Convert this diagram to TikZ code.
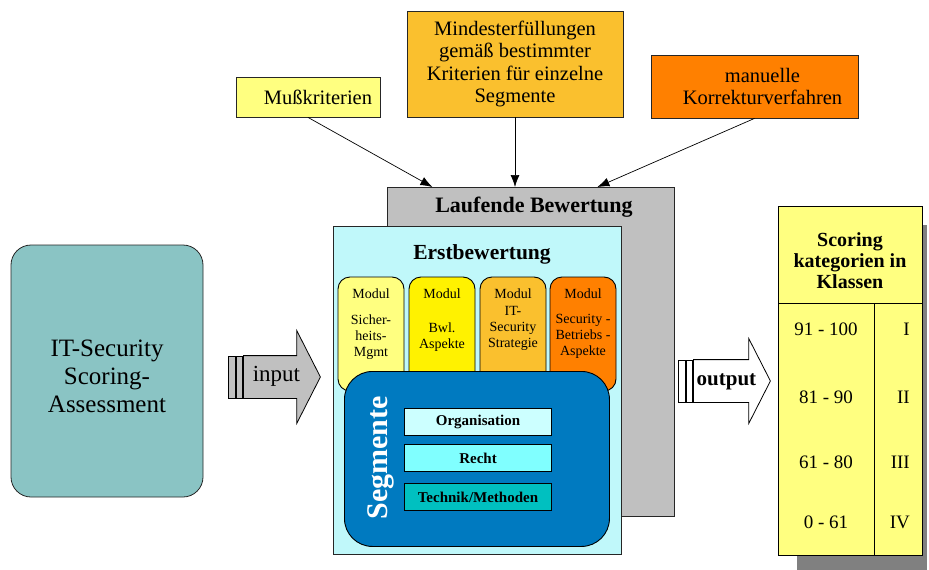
\documentclass[tikz,border=0pt]{standalone}
\usepackage{fontspec}
\setmainfont{Liberation Serif}
\usepackage{xcolor}
\usepackage{tikz}
\usetikzlibrary{positioning, arrows.meta, shapes.arrows, calc}
\definecolor{paleyel}{RGB}{255,255,128}
\definecolor{gold}{RGB}{250,192,46}
\definecolor{orng}{RGB}{255,128,0}
\definecolor{lgray}{RGB}{192,192,192}
\definecolor{palecyan}{RGB}{192,248,250}
\definecolor{segblue}{RGB}{0,122,192}
\definecolor{orgcol}{RGB}{204,255,255}
\definecolor{rechtcol}{RGB}{128,255,255}
\definecolor{techcol}{RGB}{0,192,192}
\definecolor{itcol}{RGB}{138,196,196}
\definecolor{shade}{RGB}{128,128,128}
\newcommand{\fsz}[2]{\fontsize{#1}{#2}\selectfont}
\tikzset{
  crit/.style={rectangle, draw=black!85, line width=0.8pt, inner sep=0pt},
  lbl/.style={align=center, inner sep=0pt, font=\fsz{20.5}{22.5}},
  panel/.style={rectangle, draw=black!85, line width=0.8pt, inner sep=0pt, anchor=north west},
  modbox/.style={rectangle, draw=black, line width=0.9pt, rounded corners=12pt,
                 minimum width=66pt, minimum height=114pt, inner sep=0pt},
  modtxt/.style={align=center, inner sep=0pt, anchor=north, font=\fsz{14}{16.3}},
  segbox/.style={rectangle, draw=black, line width=0.8pt, minimum width=147pt,
                 minimum height=27pt, inner sep=0pt, font=\bfseries\fsz{15}{17}},
  bar/.style={rectangle, draw=black, line width=0.8pt, minimum width=6.5pt,
              minimum height=42pt, inner sep=0pt},
  fat/.style={single arrow, draw=black, line width=0.8pt, single arrow tip angle=126,
              minimum height=77pt, text height=13pt, text depth=4pt,
              inner ysep=12.5pt, inner xsep=2pt, anchor=tail},
  arr/.style={-{Latex[length=12pt, width=9pt]}, line width=0.7pt},
  row/.style={inner sep=0pt, font=\fsz{19}{20}},
}

\begin{document}
\begin{tikzpicture}[x=1pt, y=-1pt]
  \useasboundingbox (0,0) rectangle (929,570);
  % criteria feeding the running evaluation
  \node[crit, fill=paleyel, minimum width=144pt, minimum height=40pt,
        label={[lbl, xshift=10pt]center:Mußkriterien}] (muss) at (308,97) {};
  \node[crit, fill=gold, minimum width=216pt, minimum height=106pt, lbl] (mind) at (515,64)
       {Mindesterfüllungen\\gemäß bestimmter\\Kriterien für einzelne\\Segmente};
  \node[crit, fill=orng, minimum width=207pt, minimum height=63pt,
        label={[lbl, xshift=8pt]center:{manuelle\\Korrekturverfahren}}] (man) at (754.5,86.5) {};
  % evaluation panels
  \node[panel, fill=lgray, minimum width=287pt, minimum height=329pt] (lauf) at (387,187) {};
  \node[font=\bfseries\fsz{22}{24}] (laufT) at (534,207) {Laufende Bewertung};
  \draw[arr] (muss.south) -- ($(lauf.north)+(-98.5,0)$);
  \draw[arr] (mind.south) -- (mind.south |- lauf.north);
  \draw[arr] (man.south) -- ($(lauf.north)+(66.5,0)$);
  \node[panel, fill=palecyan, minimum width=288pt, minimum height=328pt] (erst) at (333,226) {};
  \node[font=\bfseries\fsz{21.5}{24}] (erstT) at (482,254) {Erstbewertung};
  % modules
  \foreach \x/\c/\g/\t [count=\i] in {371/paleyel/9pt/{Sicher-\\heits-\\Mgmt},
      442/yellow/17pt/{Bwl.\\Aspekte}, 513/gold/0pt/{IT-\\Security\\Strategie},
      583/orng/8pt/{Security -\\Betriebs -\\Aspekte}}{
    \node[modbox, fill=\c] (m\i) at (\x,334) {};
    \node[modtxt] (mt\i) at (\x,289) {Modul\\[\g]\t};
  }
  % segments
  \node[panel, draw=black, line width=0.9pt, fill=segblue, rounded corners=28pt,
        minimum width=265pt, minimum height=175pt] (seg) at (344,371) {};
  \node[rotate=90, text=white, font=\bfseries\fsz{30}{32}] (segT) at (381,458) {Segmente};
  \node[segbox, fill=orgcol] (org) at (478,421.5) {Organisation};
  \node[segbox, fill=rechtcol, below=9pt of org] (recht) {Recht};
  \node[segbox, fill=techcol, below=11pt of recht] (tech) {Technik/Methoden};
  % input side
  \node[rectangle, draw=black!85, line width=0.8pt, fill=itcol, rounded corners=20pt,
        minimum width=192pt, minimum height=252pt,
        label={[align=center, inner sep=0pt, yshift=-5pt, font=\fsz{25}{28}]center:{IT-Security\\Scoring-\\Assessment}}]
       (its) at (107,371) {};
  \node[fat, fill=lgray, single arrow head extend=25pt, font=\fsz{23}{24}] (inp) at (243,377) {input};
  \node[bar, fill=lgray, left=0pt of inp.tail] (inb2) {};
  \node[bar, fill=lgray, left=0pt of inb2] (inb1) {};
  % output side
  \node[fat, fill=white, single arrow head extend=21pt, font=\bfseries\fsz{21}{22}] (outp) at (693,381) {output};
  \node[bar, fill=white, left=0pt of outp.tail] (outb2) {};
  \node[bar, fill=white, left=0pt of outb2] (outb1) {};
  % scoring table
  \node[panel, draw=none, fill=shade, minimum width=130pt, minimum height=345pt] (shadow) at (797,225) {};
  \node[panel, draw=black, fill=paleyel, minimum width=144pt, minimum height=349pt] (score) at (778,206) {};
  \node[align=center, font=\bfseries\fsz{20}{21}] (scoreT) at (850,261) {Scoring\\kategorien in\\Klassen};
  \coordinate (hdr) at (874,303);
  \draw[line width=0.8pt] (score.west |- hdr) -- (score.east |- hdr);
  \draw[line width=0.8pt] (hdr) -- (hdr |- score.south);
  \foreach \y/\r/\k in {329/91 - 100/I, 397/81 - 90/II, 462/61 - 80/III, 522/0 - 61/IV}{
    \node[row] (r\k) at (826,\y) {\r};
    \node[row, anchor=east] (k\k) at (910,\y) {\k};
  }
\end{tikzpicture}
\end{document}
